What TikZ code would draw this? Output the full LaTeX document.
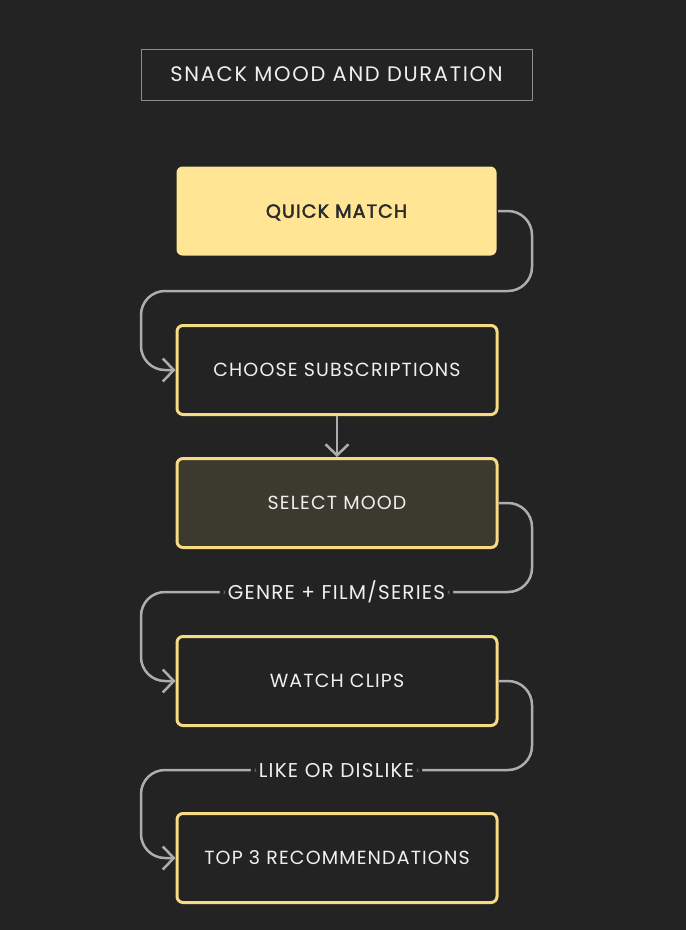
\documentclass[tikz,border=0pt]{standalone}
\usepackage{fontspec}
\setmainfont{Poppins}[LetterSpace=6]
\newfontfamily\titlefont{Poppins}[LetterSpace=8]
\newfontfamily\quickfont{Poppins}[LetterSpace=6, FakeBold=2.5]
\usetikzlibrary{arrows.meta}

\definecolor{bgdark}{HTML}{232323}
\definecolor{boxedge}{HTML}{F7DB84}
\definecolor{quickfill}{HTML}{FFE594}
\definecolor{moodfill}{HTML}{3C3A2E}
\definecolor{flowgrey}{HTML}{ADADAD}
\definecolor{titleedge}{HTML}{8C8C8C}
\definecolor{labeltext}{HTML}{EFEFEF}
\definecolor{darktext}{HTML}{2B2B2B}

\tikzset{
  title box/.style={draw=titleedge, line width=1pt, minimum width=391pt,
    minimum height=51pt, text=labeltext, text height=14.5pt, text depth=0pt,
    font=\titlefont\fontsize{21}{25}\selectfont},
  step box/.style={draw=boxedge, line width=3pt, rounded corners=6pt,
    minimum width=320pt, minimum height=89pt, text=labeltext,
    text height=13.5pt, text depth=0pt, font=\fontsize{19}{22}\selectfont},
  flow/.style={draw=flowgrey, line width=2.5pt, rounded corners=24pt,
    -{Straight Barb[length=11pt,width=23pt]}},
  flow label/.style={fill=bgdark, text=labeltext, inner xsep=8pt,
    text height=14pt, text depth=0pt, font=\fontsize{20}{24}\selectfont}
}

\begin{document}
\begin{tikzpicture}[x=1pt, y=-1pt]
  \fill[bgdark] (0,0) rectangle (686,930);

  % rails for the bends
  \coordinate (railR) at (532,0);
  \coordinate (railL) at (141,0);
  \coordinate (turn1) at (336,291);
  \coordinate (turn2) at (336,592);
  \coordinate (turn3) at (336,770);

  \node[title box] (title) at (336.5,74.5) {SNACK MOOD AND DURATION};

  \node[step box, draw=none, fill=quickfill, text=darktext,
        font=\quickfont\fontsize{19}{22}\selectfont] (quick) at (336.5,211) {QUICK MATCH};
  \node[step box] (choose) at (337,370) {CHOOSE SUBSCRIPTIONS};
  \node[step box, fill=moodfill] (mood) at (337,503) {SELECT MOOD};
  \node[step box] (clips) at (337,681) {WATCH CLIPS};
  \node[step box] (top3) at (337,858) {TOP 3 RECOMMENDATIONS};

  \draw[flow] (quick.east) -| (railR |- turn1) -- (railL |- turn1) |- (choose.west);
  \draw[flow, rounded corners=0pt] (choose.south) -- (mood.north);
  \draw[flow] (mood.east) -| (railR |- turn2)
    -- node[flow label] {GENRE + FILM/SERIES} (railL |- turn2) |- (clips.west);
  \draw[flow] (clips.east) -| (railR |- turn3)
    -- node[flow label] {LIKE OR DISLIKE} (railL |- turn3) |- (top3.west);
\end{tikzpicture}
\end{document}
